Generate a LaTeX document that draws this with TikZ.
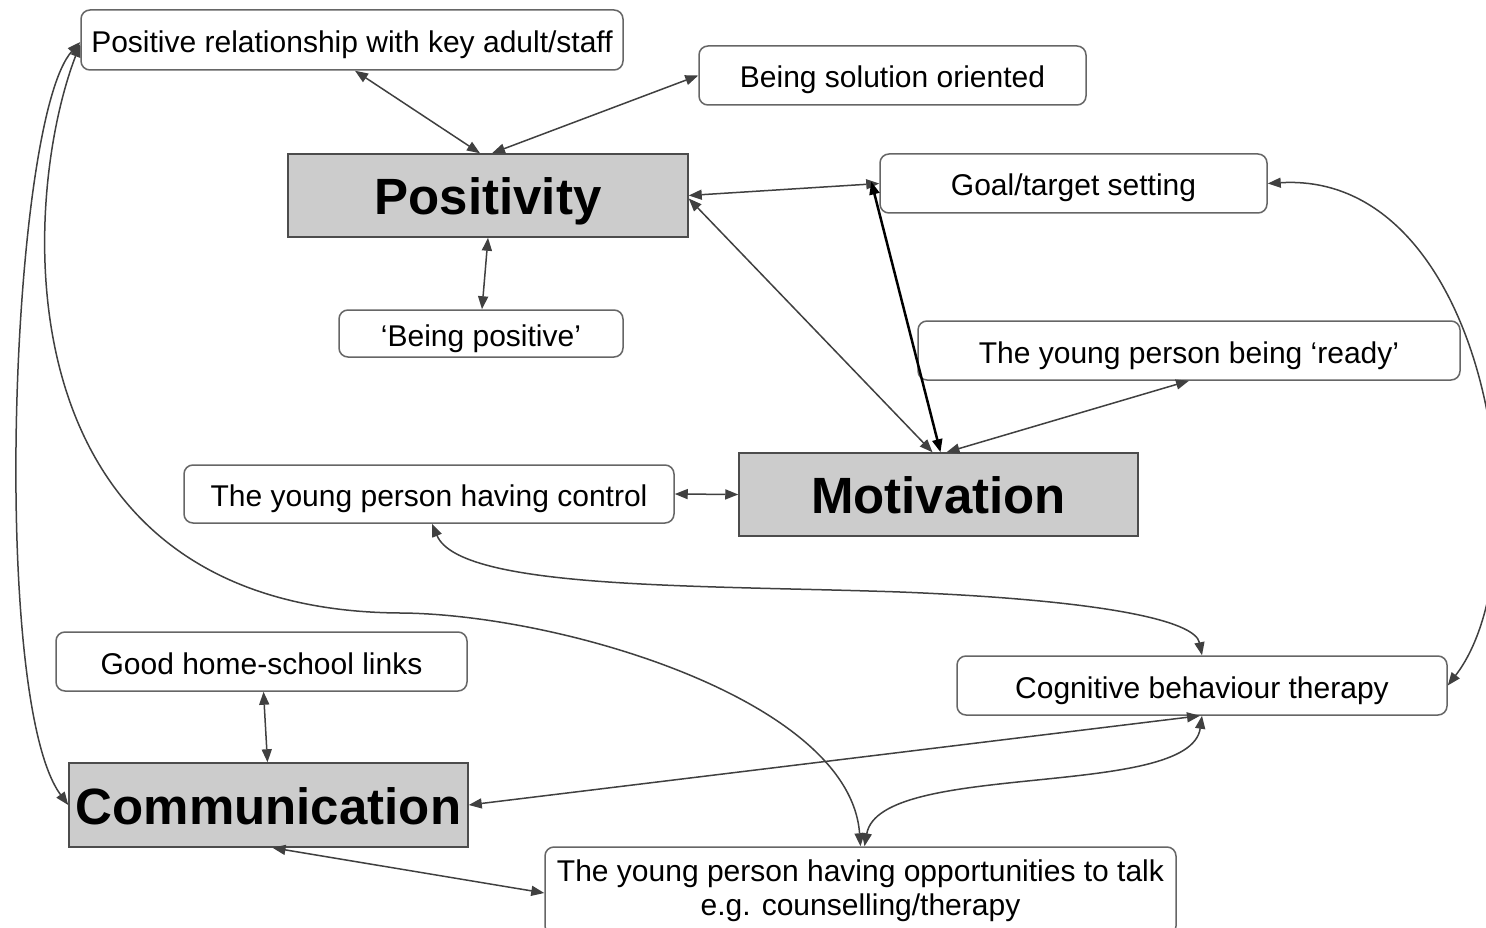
\documentclass[tikz,border=0pt]{standalone}
\usepackage{fontspec}
\setmainfont{Liberation Sans}
\usetikzlibrary{arrows.meta}
\begin{document}
\begin{tikzpicture}[x=1pt,y=-1pt,
  box/.style={draw=black!60, line width=1.5pt, rounded corners=9pt, fill=white,
    minimum height=59pt, inner sep=0pt, align=center, text height=25pt, text depth=0pt,
    font=\fontsize{30}{34}\selectfont},
  core/.style={draw=black!70, line width=1.5pt, fill=black!20, inner sep=0pt,
    minimum height=83pt, minimum width=400pt, text height=38pt, text depth=0pt,
    font=\fontsize{51}{60}\selectfont\bfseries},
  link/.style={draw=black!75, line width=1.5pt,
    {Triangle[length=13pt,width=10pt]}-{Triangle[length=13pt,width=10pt]}},
  strong/.style={link, draw=black, line width=2.5pt}]
\useasboundingbox (0,0) rectangle (1486,928);
\fill[white] (0,0) rectangle (1486,928);
% nodes
\node[box, minimum width=542pt, minimum height=60pt] (rel) at (352,40) {Positive relationship with key adult/staff};
\node[box, minimum width=387pt] (sol) at (892.5,75.5) {Being solution oriented};
\node[core] (pos) at (488,195.5) {Positivity};
\node[box, minimum width=387pt] (goal) at (1073.5,183.5) {Goal/target setting};
\node[box, minimum width=284pt, minimum height=47pt] (bp) at (481,333.5) {‘Being positive’};
\node[box, minimum width=542pt] (ready) at (1189,350.5) {The young person being ‘ready’};
\node[box, minimum width=490pt, minimum height=58pt] (ctrl) at (429,494) {The young person having control};
\node[core, minimum width=399pt] (mot) at (938.5,494.5) {Motivation};
\node[box, minimum width=411pt] (home) at (261.5,661.5) {Good home-school links};
\node[box, minimum width=490pt] (cbt) at (1202,685.5) {Cognitive behaviour therapy};
\node[core, minimum width=399pt, minimum height=84pt] (comm) at (268.5,805) {Communication};
\node[box, text height=, text depth=, minimum width=631pt, minimum height=88pt] (talk) at (860.5,891) {The young person having opportunities to talk\\e.g. counselling/therapy};
% connectors
\draw[link] ([xshift=3pt]rel.south) -- ([xshift=-8pt]pos.north);
\draw[link] (sol.west) -- ([xshift=4pt]pos.north);
\draw[link] (pos.east) -- (goal.west);
\draw[link] ([yshift=-3pt]pos.east) -- ([xshift=-6pt]mot.north);
\draw[strong] ([xshift=-8pt,yshift=2pt]goal.west) -- ([xshift=2pt]mot.north);
\draw[link] ([xshift=8pt]mot.north) -- (ready.south);
\draw[link] (pos.south) -- ([xshift=1pt]bp.north);
\draw[link] (ctrl.east) -- (mot.west);
\draw[link] ([xshift=3pt]ctrl.south) .. controls (460,590) and (700,585) .. (900,592)
  .. controls (1100,600) and (1195,620) .. (cbt.north);
\draw[link] (goal.east) .. controls (1490,170) and (1545,560) .. (cbt.east);
\draw[link] ([yshift=-2pt]rel.west) .. controls (10,120) and (-10,700) .. (comm.west);
\draw[link] ([yshift=-4pt]rel.west) .. controls (20,200) and (-5,610) .. (400,613)
  .. controls (560,614) and (850,700) .. (talk.north);
\draw[link] (comm.east) -- ([xshift=-2pt]cbt.south);
\draw[link] ([xshift=4pt]talk.north) .. controls (880,760) and (1190,800) .. (cbt.south);
\draw[link] ([xshift=4pt]comm.south) -- ([yshift=-2pt]talk.west);
\draw[link] ([xshift=2pt]home.south) -- ([xshift=-1pt]comm.north);
\end{tikzpicture}
\end{document}
